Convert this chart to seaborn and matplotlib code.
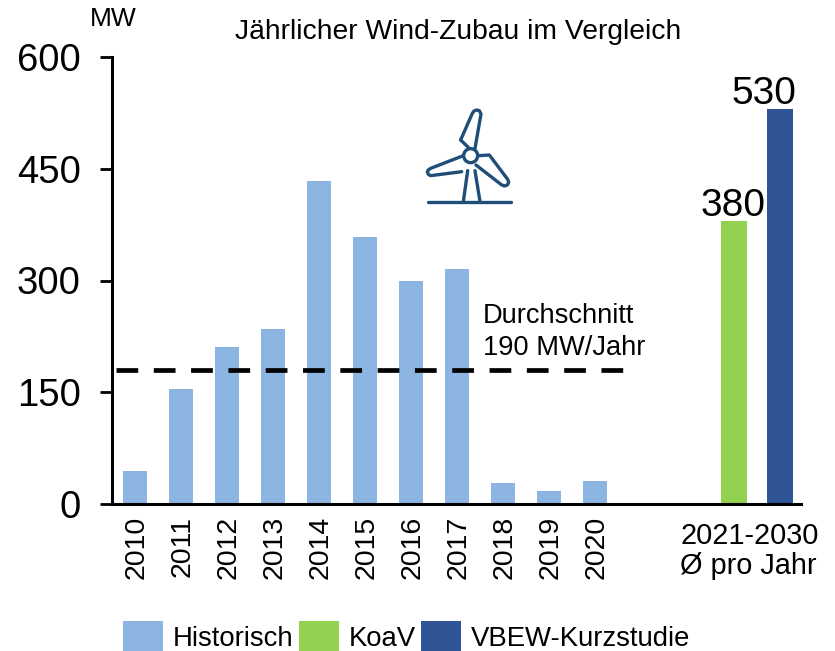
#! /usr/bin/env python3

import pandas as pd
import matplotlib.pyplot as plt
from matplotlib.lines import Line2D
from matplotlib.patches import Circle
from matplotlib.transforms import IdentityTransform, ScaledTranslation
import seaborn as sns

years = ['2010', '2011', '2012', '2013', '2014', '2015', '2016', '2017', '2018', '2019', '2020']
hist_values = [44, 154, 211, 235, 433, 358, 299, 315, 28, 17, 31]
koav_value = 380
vbew_value = 530
avg_value = 180
yticks = [0, 150, 300, 450, 600]

BLUE = '#8cb5e1'
GREEN = '#92d050'
DARK = '#2f5597'
ICON = '#1f4e79'

sns.set_theme(style='white')
plt.rcParams['font.family'] = ['Liberation Sans', 'DejaVu Sans']
plt.rcParams['text.color'] = 'black'

# two empty slots between the history and the outlook bars
order = years + ['gap1', 'gap2', 'KoaV', 'VBEW']
data = pd.DataFrame({
    'cat': years + ['KoaV', 'VBEW'],
    'val': hist_values + [koav_value, vbew_value],
    'serie': ['Historisch'] * len(years) + ['KoaV', 'VBEW-Kurzstudie'],
})

fig = plt.figure(figsize=(8.35, 6.51), dpi=100)
ax = fig.add_axes([112 / 835, 147 / 651, 689 / 835, 447 / 651])

sns.barplot(data=data, x='cat', y='val', hue='serie', order=order, dodge=False,
            palette=[BLUE, GREEN, DARK], width=0.52, saturation=1, linewidth=0, ax=ax)

# the outlook bars are a bit wider than the history bars
for cont, w, shift in zip(ax.containers, [0.53, 0.57, 0.57], [0, 0.02, 0.02]):
    for bar in cont:
        mid = bar.get_x() + bar.get_width() / 2 + shift
        bar.set_width(w)
        bar.set_x(mid - w / 2)

ax.set_xlim(-0.5, 14.48)
ax.set_ylim(0, 600)
ax.set_xlabel('')
ax.set_ylabel('')
ax.set_yticks(yticks)
ax.tick_params(axis='y', labelsize=27.5, length=9, width=2, left=True, color='black', pad=13.5, labelcolor='black')
ax.set_xticks(range(len(years)))
ax.set_xticklabels(years, rotation=90, fontsize=20.5, color='black')
ax.tick_params(axis='x', bottom=False, pad=2.5)
for lab in ax.get_xticklabels():
    lab.set_transform(lab.get_transform() + ScaledTranslation(1.5 / 72, 0, fig.dpi_scale_trans))
sns.despine(ax=ax)
ax.spines['left'].set_linewidth(2.2)
ax.spines['left'].set_color('black')
ax.spines['bottom'].set_linewidth(2.2)
ax.spines['bottom'].set_color('black')

ax.plot([-0.41, 10.6], [avg_value, avg_value], color='black', lw=3.4, dashes=(4.6, 3.3))

ax.annotate(str(koav_value), (13, koav_value), xytext=(0, -2), textcoords='offset points',
            ha='center', va='bottom', fontsize=28)
ax.annotate(str(vbew_value), (14, vbew_value), xytext=(-11, -2), textcoords='offset points',
            ha='center', va='bottom', fontsize=28)

fig.text(90 / 835, 1 - 19 / 651, 'MW', fontsize=19, va='center')
fig.text(458 / 835, 1 - 32 / 651, 'Jährlicher Wind-Zubau im Vergleich', fontsize=20.3, ha='center', va='center')
fig.text(483 / 835, 1 - 332 / 651, 'Durchschnitt\n190 MW/Jahr', fontsize=19.6, va='center', linespacing=1.3)
fig.text(680 / 835, 1 - 551 / 651, '2021-2030\nØ pro Jahr', fontsize=20.8, va='center', linespacing=1.1)

# wind turbine icon, in pixels
def icon_line(pts):
    xs = [400 + p[0] / 3 for p in pts]
    ys = [651 - (90 + p[1] / 3) for p in pts]
    fig.add_artist(Line2D(xs, ys, color=ICON, lw=2.4, transform=IdentityTransform(),
                          solid_capstyle='round', solid_joinstyle='round'))

icon_line([(182, 150), (217, 70), (222, 63), (230, 60), (238, 62), (243, 72), (225, 175)])
icon_line([(182, 150), (205, 172)])
icon_line([(190, 197), (92, 235), (85, 240), (82, 246), (85, 253), (92, 257), (185, 245)])
icon_line([(235, 197), (268, 195), (323, 268), (326, 277), (322, 285), (313, 288), (304, 284), (228, 225)])
icon_line([(203, 242), (190, 335)])
icon_line([(225, 242), (240, 335)])
icon_line([(85, 336), (332, 336)])
fig.add_artist(Circle((400 + 212 / 3, 651 - (90 + 197 / 3)), 7, fill=False, ec=ICON, lw=2.4,
                      transform=IdentityTransform()))

sns.move_legend(ax, 'lower left', bbox_to_anchor=(123 / 835, -2 / 651), bbox_transform=fig.transFigure,
                ncols=3, frameon=False, title=None, fontsize=19.8, borderpad=0, borderaxespad=0,
                handlelength=1.45, handleheight=1.4, handletextpad=0.36, columnspacing=0.2)

plt.savefig('out.png', dpi=100)
